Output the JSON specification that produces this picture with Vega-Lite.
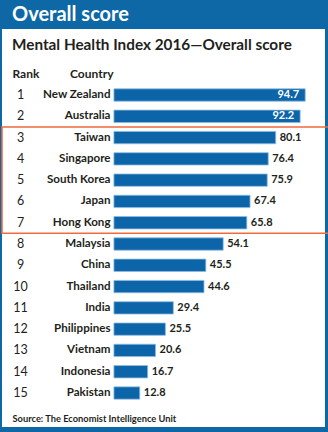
{
  "$schema": "https://vega.github.io/schema/vega-lite/v6.json",
  "width": 323,
  "height": 398,
  "autosize": {"type": "none"},
  "padding": {"left": 2, "top": 29, "right": 3, "bottom": 5},
  "background": "#0e68a6",
  "title": {
    "text": "Overall score",
    "subtitle": "Mental Health Index 2016—Overall score",
    "anchor": "start",
    "frame": "group",
    "dx": 10,
    "offset": -24,
    "color": "#ffffff",
    "font": "Lato",
    "fontSize": 20,
    "fontWeight": "bold",
    "subtitleColor": "#231f20",
    "subtitleFont": "Lato",
    "subtitleFontSize": 15.3,
    "subtitleFontWeight": "bold",
    "subtitlePadding": 13
  },
  "data": {
    "values": [
      {"Rank": 1, "Country": "New Zealand", "Score": 94.7},
      {"Rank": 2, "Country": "Australia", "Score": 92.2},
      {"Rank": 3, "Country": "Taiwan", "Score": 80.1},
      {"Rank": 4, "Country": "Singapore", "Score": 76.4},
      {"Rank": 5, "Country": "South Korea", "Score": 75.9},
      {"Rank": 6, "Country": "Japan", "Score": 67.4},
      {"Rank": 7, "Country": "Hong Kong", "Score": 65.8},
      {"Rank": 8, "Country": "Malaysia", "Score": 54.1},
      {"Rank": 9, "Country": "China", "Score": 45.5},
      {"Rank": 10, "Country": "Thailand", "Score": 44.6},
      {"Rank": 11, "Country": "India", "Score": 29.4},
      {"Rank": 12, "Country": "Philippines", "Score": 25.5},
      {"Rank": 13, "Country": "Vietnam", "Score": 20.6},
      {"Rank": 14, "Country": "Indonesia", "Score": 16.7},
      {"Rank": 15, "Country": "Pakistan", "Score": 12.8}
    ]
  },
  "encoding": {
    "x": {
      "field": "Score",
      "type": "quantitative",
      "scale": {"domain": [-55.4, 104.5], "nice": false, "zero": false},
      "axis": {
        "orient": "bottom",
        "labels": false,
        "ticks": false,
        "domain": false,
        "grid": false,
        "title": "Source: The Economist Intelligence Unit",
        "titleAnchor": "start",
        "titleAlign": "left",
        "titleBaseline": "middle",
        "titleX": 10,
        "titleY": -9,
        "titleFont": "Lato",
        "titleFontSize": 9.3,
        "titleFontWeight": "bold",
        "titleColor": "#231f20"
      }
    }
  },
  "layer": [
    {
      "mark": {"type": "bar", "color": "#0b65a8", "stroke": "#8fbbe0", "strokeWidth": 0.8},
      "encoding": {
        "y": {
          "field": "Country",
          "type": "nominal",
          "sort": {"field": "Rank"},
          "scale": {"type": "band", "range": [55.36, 374.65], "paddingInner": 0.42, "paddingOuter": 0.21},
          "axis": {
            "orient": "left",
            "offset": -108,
            "ticks": false,
            "tickSize": 0,
            "domain": false,
            "labelPadding": 0,
            "labelAlign": "right",
            "labelFont": "Lato",
            "labelFontSize": 11.6,
            "labelFontWeight": "bold",
            "labelColor": "#231f20",
            "title": "Country",
            "titleAngle": 0,
            "titleAlign": "right",
            "titleBaseline": "middle",
            "titleX": 3,
            "titleY": 44,
            "titleFont": "Lato",
            "titleFontSize": 12,
            "titleFontWeight": "bold",
            "titleColor": "#231f20"
          }
        }
      }
    },
    {
      "mark": {
        "type": "text",
        "font": "Lato",
        "fontSize": 11,
        "fontWeight": "bold",
        "baseline": "middle",
        "align": {"expr": "datum.Score > 90 ? 'right' : 'left'"},
        "dx": {"expr": "datum.Score > 90 ? -6 : 4"}
      },
      "encoding": {
        "y": {
          "field": "Rank",
          "type": "ordinal",
          "scale": {"type": "band", "range": [55.36, 374.65], "paddingInner": 0.42, "paddingOuter": 0.21},
          "axis": {
            "orient": "left",
            "offset": -18,
            "ticks": false,
            "tickSize": 0,
            "domain": false,
            "labelPadding": 0,
            "labelAlign": "center",
            "labelFont": "Lato",
            "labelFontSize": 12.5,
            "labelFontWeight": "normal",
            "labelColor": "#231f20",
            "title": "Rank",
            "titleAngle": 0,
            "titleAlign": "left",
            "titleBaseline": "middle",
            "titleX": -8,
            "titleY": 44,
            "titleFont": "Lato",
            "titleFontSize": 12,
            "titleFontWeight": "bold",
            "titleColor": "#231f20"
          }
        },
        "text": {"field": "Score", "type": "quantitative", "format": ".1f"},
        "color": {
          "condition": {"test": "datum.Score > 90", "value": "#ffffff"},
          "value": "#231f20"
        }
      }
    },
    {
      "data": {"values": [{"first_rank": 3, "last_rank": 7}]},
      "mark": {
        "type": "rect",
        "filled": false,
        "color": "#ef6a3e",
        "strokeWidth": 1.5,
        "xOffset": 5,
        "x2Offset": -3,
        "yOffset": -10.6,
        "y2Offset": 10.6
      },
      "encoding": {
        "x": null,
        "y": {
          "field": "first_rank",
          "type": "quantitative",
          "scale": {"domain": [-2.1006, 16.597], "reverse": true, "nice": false, "zero": false},
          "axis": null
        },
        "y2": {"field": "last_rank"}
      }
    }
  ],
  "resolve": {"scale": {"y": "independent"}, "axis": {"y": "independent"}},
  "config": {
    "view": {"fill": "#ffffff", "stroke": null}
  }
}
